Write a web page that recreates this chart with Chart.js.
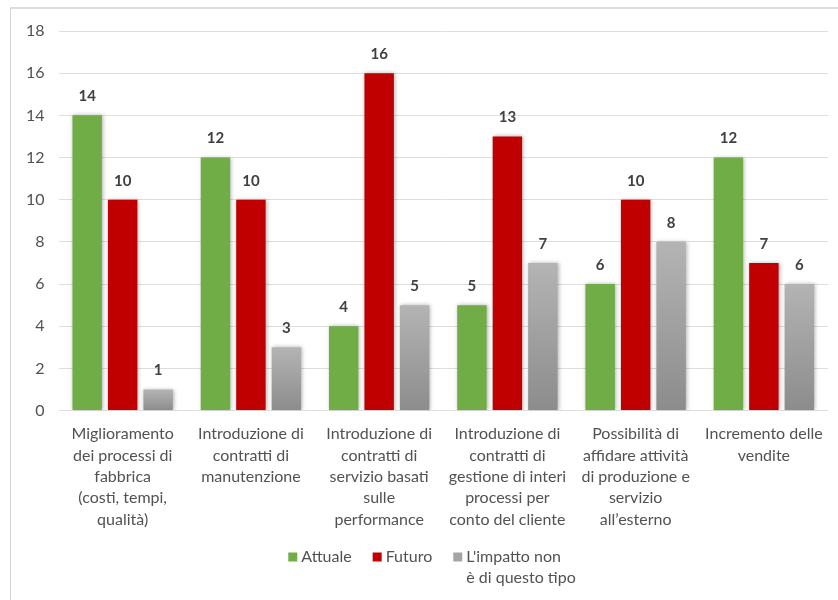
<!DOCTYPE html>
<html>
<head>
<meta charset="utf-8">
<script src="https://cdn.jsdelivr.net/npm/chart.js@4/dist/chart.umd.min.js"></script>
<style>
html, body { margin: 0; padding: 0; background: #fff; }
#wrap { position: relative; width: 838px; height: 600px; overflow: hidden; }
#frame { position: absolute; left: 10px; top: 7px; width: 900px; height: 700px; border-left: 1px solid #d4d4d4; border-top: 2px solid #dcdcdc; }
canvas { position: absolute; left: 0; top: 0; }
</style>
</head>
<body>
<div id="wrap"><div id="frame"></div><canvas id="chart" width="838" height="600"></canvas></div>
<script>
const categories = [
    ["Miglioramento", "dei processi di", "fabbrica", "(costi, tempi,", "qualità)"],
    ["Introduzione di", "contratti di", "manutenzione"],
    ["Introduzione di", "contratti di", "servizio basati", "sulle", "performance"],
    ["Introduzione di", "contratti di", "gestione di interi", "processi per", "conto del cliente"],
    ["Possibilità di", "affidare attività", "di produzione e", "servizio", "all’esterno"],
    ["Incremento delle", "vendite"]
];
const attuale = [14, 12, 4, 5, 6, 12];
const futuro = [10, 10, 16, 13, 10, 7];
const nonTipo = [1, 3, 5, 7, 8, 6];
const seriesNames = ["Attuale", "Futuro", ["L'impatto non", "è di questo tipo"]];
const yMin = 0, yMax = 18, yStep = 2;

const FONT = "Lato, 'Liberation Sans', sans-serif";
const TEXT = '#525252';

// gray bars fade from light at the top to darker at the base
function grayFill(ctx) {
    const chart = ctx.chart;
    if (!chart.chartArea || ctx.type !== 'data') return '#a5a5a5';
    const y = chart.scales.y;
    const top = y.getPixelForValue(ctx.raw);
    const bottom = y.getPixelForValue(0);
    const g = chart.ctx.createLinearGradient(0, top, 0, bottom);
    g.addColorStop(0, '#b4b4b4');
    g.addColorStop(1, '#8c8c8c');
    return g;
}

const barShadow = {
    id: 'barShadow',
    beforeDatasetsDraw(chart) {
        const c = chart.ctx;
        c.save();
        c.shadowColor = 'rgba(0,0,0,0.3)';
        c.shadowBlur = 4;
        c.shadowOffsetX = 1;
    },
    afterDatasetsDraw(chart) {
        chart.ctx.restore();
    }
};

const valueLabels = {
    id: 'valueLabels',
    afterDatasetsDraw(chart) {
        const c = chart.ctx;
        c.save();
        c.font = 'bold 15px ' + FONT;
        c.fillStyle = '#404040';
        c.textAlign = 'center';
        c.textBaseline = 'middle';
        chart.data.datasets.forEach((ds, i) => {
            chart.getDatasetMeta(i).data.forEach((bar, j) => {
                c.fillText(ds.data[j], bar.x, bar.y - 19);
            });
        });
        c.restore();
    }
};

// legend with a two-line last entry, box aligned on the first line
const bottomLegend = {
    id: 'bottomLegend',
    afterDraw(chart) {
        const c = chart.ctx;
        c.save();
        c.font = '16px ' + FONT;
        c.textBaseline = 'middle';
        c.textAlign = 'left';
        const box = 9, gap = 4, spacing = 21, lineH = 21, y0 = 557;
        const items = chart.data.datasets.map(ds => {
            const lines = Array.isArray(ds.label) ? ds.label : [ds.label];
            const w = Math.max(...lines.map(l => c.measureText(l).width));
            return { lines, w: box + gap + w, color: ds.legendColor };
        });
        const total = items.reduce((s, it) => s + it.w, 0) + spacing * (items.length - 1);
        let x = chart.width / 2 + 13 - total / 2;
        items.forEach(it => {
            c.fillStyle = it.color;
            c.fillRect(x, y0 - box / 2, box, box);
            c.fillStyle = TEXT;
            it.lines.forEach((l, k) => c.fillText(l, x + box + gap, y0 + k * lineH));
            x += it.w + spacing;
        });
        c.restore();
    }
};

new Chart(document.getElementById('chart'), {
    type: 'bar',
    data: {
        labels: categories,
        datasets: [
            { label: seriesNames[0], data: attuale, backgroundColor: '#70ad47', legendColor: '#70ad47' },
            { label: seriesNames[1], data: futuro, backgroundColor: '#c00000', legendColor: '#c00000' },
            { label: seriesNames[2], data: nonTipo, backgroundColor: grayFill, legendColor: '#a5a5a5' }
        ]
    },
    options: {
        responsive: false,
        animation: false,
        devicePixelRatio: 1,
        layout: { padding: { left: 12, right: 10, top: 31, bottom: 65 } },
        datasets: {
            bar: { barPercentage: 0.83, categoryPercentage: 0.83 }
        },
        plugins: {
            legend: { display: false },
            tooltip: { enabled: false }
        },
        scales: {
            x: {
                grid: { display: false },
                border: { display: false },
                ticks: {
                    autoSkip: false,
                    maxRotation: 0,
                    minRotation: 0,
                    padding: 5,
                    color: TEXT,
                    font: { family: FONT, size: 16, lineHeight: 1.33 }
                }
            },
            y: {
                min: yMin,
                max: yMax,
                grid: { color: '#dedede', drawTicks: false },
                border: { display: false },
                ticks: {
                    stepSize: yStep,
                    padding: 14,
                    color: TEXT,
                    font: { family: FONT, size: 16 }
                }
            }
        }
    },
    plugins: [barShadow, valueLabels, bottomLegend]
});
</script>
</body>
</html>
